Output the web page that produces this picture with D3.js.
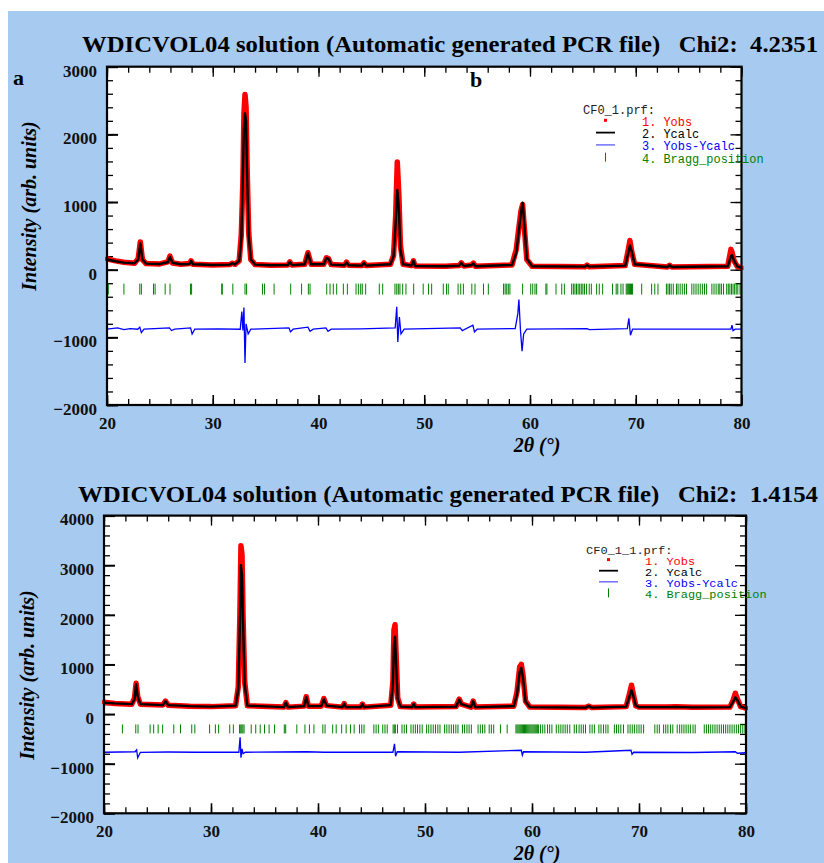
<!DOCTYPE html>
<html>
<head>
<meta charset="utf-8">
<script src="https://cdn.jsdelivr.net/npm/d3@7"></script>
<style>
  body { margin: 0; background: #fff; }
  svg text { white-space: pre; }
</style>
</head>
<body>
<div id="chart"></div>
<script>
// ---------- data, panel a (top) ----------
var topTitle = "WDICVOL04 solution (Automatic generated PCR file)   Chi2:  4.2351";
var topFile = "CF0_1.prf:";
var topYTicks = [-2000, -1000, 0, 1000, 2000, 3000];

var topTth  = [20.0, 20.8, 21.6, 22.6, 22.95, 23.15, 23.35, 23.7, 25.0, 25.75, 25.95, 26.2, 27.0, 27.8, 27.95, 28.15,
               30.0, 31.6, 31.85, 32.1, 32.5, 32.7, 32.85, 32.95, 33.05, 33.15, 33.25, 33.4, 33.6, 34.0, 35.5,
               37.1, 37.3, 37.5, 38.7, 39.0, 39.3, 40.5, 40.75, 40.95, 41.2, 42.45, 42.65, 42.85, 44.1, 44.3, 44.5,
               46.8, 47.1, 47.3, 47.45, 47.6, 47.75, 48.0, 48.8, 48.97, 49.15, 52.0, 53.3, 53.5, 53.75, 54.5, 54.65, 54.85,
               58.3, 58.7, 58.9, 59.15, 59.3, 59.45, 59.7, 60.2, 65.2, 65.4, 65.6, 69.0, 69.3, 69.45, 69.6, 69.9,
               73.0, 73.2, 73.4, 78.7, 79.0, 79.1, 79.3, 79.6, 80.0];
var topCalc = [150, 125, 105, 95, 150, 390, 150, 90, 85, 110, 190, 100, 80, 85, 130, 80,
               70, 75, 95, 80, 130, 450, 1400, 2100, 2310, 2200, 1400, 500, 150, 75, 65,
               70, 115, 68, 80, 240, 80, 80, 170, 160, 75, 65, 105, 65, 60, 100, 60,
               80, 200, 700, 1180, 900, 300, 80, 60, 130, 55, 50, 60, 100, 55, 70, 92, 50,
               70, 250, 520, 850, 990, 700, 160, 50, 45, 67, 45, 60, 250, 360, 280, 80,
               40, 65, 40, 50, 200, 215, 130, 50, 25];
var topObs  = [160, 130, 110, 95, 160, 410, 150, 90, 85, 115, 200, 100, 80, 90, 130, 80,
               70, 75, 95, 80, 130, 520, 1300, 2300, 2590, 2400, 1500, 550, 150, 75, 65,
               70, 115, 68, 80, 250, 80, 80, 175, 160, 75, 65, 110, 65, 60, 100, 60,
               80, 210, 800, 1590, 1100, 350, 80, 60, 130, 55, 50, 60, 100, 55, 70, 95, 50,
               70, 300, 560, 870, 960, 650, 150, 50, 45, 67, 45, 60, 300, 430, 280, 80,
               40, 65, 40, 50, 300, 260, 130, 50, 25];

var topDiffTth = [20, 21.0, 21.6, 22.2, 22.9, 23.1, 23.25, 23.5, 25.9, 26.1, 26.4, 27.9, 28.05, 28.3, 30.5, 32.6, 32.75, 32.85,
                  32.95, 33.05, 33.15, 33.35, 33.6, 37.2, 37.35, 37.6, 39.0, 39.2, 39.5, 40.7, 40.9, 41.2, 44.0, 47.25,
                  47.4, 47.5, 47.65, 47.8, 48.1, 53.4, 53.6, 54.6, 54.75, 55.0, 58.6, 58.85, 58.95, 59.1, 59.25, 59.4,
                  59.7, 65.4, 65.6, 69.2, 69.35, 69.5, 69.7, 79.0, 79.1, 79.2, 79.4, 80];
var topDiff = [-880, -860, -885, -870, -880, -850, -930, -880, -860, -900, -880, -860, -950, -880, -875, -880, -620, -900,
               -560, -1380, -800, -950, -880, -860, -920, -880, -850, -910, -880, -860, -910, -880, -875, -860,
               -550, -1070, -700, -950, -880, -860, -900, -820, -920, -880, -870, -650, -440, -900, -1205, -950,
               -880, -870, -885, -870, -720, -970, -880, -880, -820, -900, -880, -880];

var topBragg = [20.12, 21.6, 23.1, 23.25, 24.4, 24.55, 25.5, 25.96, 27.9, 28.0, 30.85, 30.9, 31.9, 33.05, 33.2, 34.7,
                34.9, 35.8, 37.37, 38.4, 39.04, 39.2, 40.78, 41.09, 41.4, 41.72, 42.35, 42.73, 43.55, 43.77, 43.99,
                44.14, 44.46, 45.75, 46.07, 47.23, 47.4, 47.55, 47.7, 47.96, 48.27, 49.0, 49.9, 50.4, 50.7, 51.8,
                52.1, 52.27, 53.2, 53.45, 53.7, 54.5, 54.8, 55.6, 56.06, 57.5, 57.65, 57.8, 57.95, 58.1, 59.3, 60.07,
                60.26, 60.47, 60.63, 61.5, 61.6, 62.46, 63.0, 63.25, 63.94, 64.1, 64.25, 64.4, 64.55, 64.7, 64.85,
                65.0, 65.15, 65.35, 65.6, 65.8, 66.3, 66.55, 66.87, 67.8, 68.15, 68.3, 68.6, 68.8, 69.1, 69.2, 69.3,
                69.4, 69.5, 69.6, 69.7, 70.56, 71.5, 71.8, 72.1, 72.9, 73.05, 73.2, 73.35, 73.55, 73.85, 74.0, 74.2,
                74.4, 74.6, 74.8, 75.3, 75.5, 75.7, 75.9, 76.1, 76.3, 76.5, 76.7, 77.2, 77.4, 77.6, 77.8, 77.95,
                78.1, 78.3, 78.6, 78.75, 78.9, 79.05, 79.2, 79.35, 79.5, 79.65, 79.86];

// ---------- data, panel b (bottom) ----------
var botTitle = "WDICVOL04 solution (Automatic generated PCR file)   Chi2:  1.4154";
var botFile = "CF0_1_1.prf:";
var botYTicks = [-2000, -1000, 0, 1000, 2000, 3000, 4000];

var botTth  = [20, 21, 22.6, 22.85, 23.0, 23.15, 23.4, 25.5, 25.75, 26.0, 28.0, 30.0, 32.3, 32.55, 32.7, 32.8, 32.9, 33.0,
               33.15, 33.4, 36.8, 37.0, 37.2, 38.7, 38.9, 39.1, 40.3, 40.55, 40.8, 42.3, 42.45, 42.6, 44.0, 44.15, 44.3,
               46.8, 47.0, 47.1, 47.2, 47.3, 47.45, 47.7, 48.8, 48.95, 49.1, 52.9, 53.2, 53.4, 54.3, 54.5, 54.7,
               58.3, 58.6, 58.85, 59.0, 59.15, 59.4, 59.8, 65.0, 65.3, 65.6, 68.8, 69.1, 69.3, 69.45, 69.7, 70,
               72.5, 73.5, 75, 78.5, 78.8, 79.0, 79.2, 79.5, 80];
var botCalc = [230, 215, 200, 300, 600, 350, 200, 180, 260, 180, 160, 150, 170, 500, 1800, 3000, 2800, 1800,
               600, 170, 140, 230, 140, 160, 340, 160, 160, 300, 170, 140, 210, 140, 140, 200, 140,
               180, 600, 1400, 1560, 1000, 300, 150, 140, 200, 140, 150, 290, 200, 140, 260, 140,
               160, 400, 850, 930, 750, 250, 140, 130, 160, 130, 150, 350, 480, 380, 170, 140,
               140, 145, 135, 140, 250, 340, 280, 150, 120];
var botObs  = [240, 215, 200, 320, 620, 350, 200, 185, 260, 180, 160, 150, 170, 550, 2000, 3390, 3200, 1900,
               650, 170, 140, 230, 140, 160, 350, 160, 160, 310, 170, 140, 210, 140, 140, 200, 140,
               180, 650, 1700, 1800, 1200, 320, 150, 140, 200, 140, 150, 300, 200, 140, 260, 140,
               160, 450, 950, 1000, 800, 260, 140, 130, 160, 130, 150, 400, 580, 420, 170, 140,
               140, 145, 135, 140, 280, 420, 300, 150, 120];

var botDiffTth = [20, 21.5, 22.9, 23.05, 23.15, 23.4, 26.0, 28.5, 32.6, 32.72, 32.8, 32.9, 33.0, 33.2, 38.9, 40.6, 47.0,
                  47.15, 47.25, 47.4, 53.2, 59.0, 59.1, 59.2, 65.0, 69.25, 69.35, 69.5, 75.0, 79.0, 79.2, 80];
var botDiff = [-770, -765, -760, -720, -880, -770, -765, -770, -770, -470, -880, -700, -800, -770, -760, -770, -770,
               -600, -850, -760, -770, -730, -830, -760, -770, -730, -810, -770, -775, -760, -790, -780];

var botBragg = [20.04, 21.72, 22.97, 23.18, 24.31, 24.64, 25.06, 25.48, 26.52, 27.15, 28.2, 28.49, 29.87, 30.41, 30.71,
                31.75, 32.09, 32.67, 32.78, 32.88, 32.98, 33.09, 33.76, 34.18, 34.6, 35.0, 35.43, 35.93, 36.85, 36.98,
                38.02, 38.78, 39.2, 39.62, 40.45, 40.66, 41.37, 41.7, 42.21, 42.63, 43.04, 43.38, 43.88, 44.09, 44.3,
                45.22, 45.43, 45.64, 46.05, 46.26, 46.47, 47.02, 47.13, 47.23, 47.43, 47.85, 48.06, 48.27, 48.69, 48.9,
                49.1, 49.3, 49.52, 49.74, 50.15, 50.35, 50.56, 50.77, 50.98, 51.2, 51.4, 51.83, 52.04, 52.25, 52.46,
                52.67, 52.88, 53.08, 53.5, 53.7, 53.92, 54.12, 54.33, 54.96, 55.17, 55.38, 55.59, 56.0, 56.2, 56.42,
                57.05, 57.68, 58.5, 58.6, 58.7, 58.8, 58.9, 59.0, 59.1, 59.2, 59.3, 59.4, 59.5, 59.6, 59.7, 59.8,
                59.9, 60.0, 60.1, 60.2, 60.3, 60.4, 60.5, 60.6, 60.8, 61.0, 61.2, 61.45, 61.65, 61.86, 62.27, 62.5,
                62.7, 62.9, 63.1, 63.3, 63.53, 63.95, 64.15, 64.4, 64.6, 64.8, 65.0, 65.41, 65.62, 65.83, 66.25,
                66.45, 66.68, 66.9, 67.1, 67.7, 67.9, 68.1, 68.3, 68.55, 68.97, 69.17, 69.37, 69.57, 69.8, 70.0,
                70.2, 70.43, 71.48, 71.7, 71.9, 72.3, 72.5, 72.7, 72.95, 73.16, 73.57, 73.8, 74.0, 74.2, 74.4, 74.6,
                74.8, 75.05, 75.25, 76.1, 76.3, 76.5, 76.7, 76.9, 77.1, 77.3, 77.5, 77.7, 77.9, 78.1, 78.3, 78.5,
                78.7, 78.9, 79.1, 79.3, 79.5, 79.7, 79.9];

var xTicks = [20, 30, 40, 50, 60, 70, 80];
var legendNames = ["1. Yobs", "2. Ycalc", "3. Yobs-Ycalc", "4. Bragg_position"];
var legendColors = ["#ff0000", "#000000", "#0000ff", "#008000"];


var W = 824, H = 863;
var svg = d3.select("#chart").append("svg")
    .attr("width", W)
    .attr("height", H);

// sky blue backdrop, thin white strip top and left
svg.append("rect").attr("x", 8).attr("y", 11).attr("width", W - 8).attr("height", H - 11).attr("fill", "#a6caf0");

var serif = "'Liberation Serif', 'Times New Roman', serif",
    mono = "'Liberation Mono', 'Courier New', monospace";

function drawPanel(p) {
  var x = d3.scaleLinear().domain([20, 80]).range([p.left, p.right]);
  var y = d3.scaleLinear().domain([p.yTicks[0], p.yTicks[p.yTicks.length - 1]]).range([p.bottom, p.top]);

  // title
  svg.append("text")
    .attr("x", p.titleX)
    .attr("y", p.titleY)
    .attr("textLength", p.titleW)
    .attr("lengthAdjust", "spacingAndGlyphs")
    .style("font-family", serif)
    .style("font-weight", "bold")
    .style("font-size", "24px")
    .text(p.title);

  // plot area
  svg.append("rect")
    .attr("x", p.left).attr("y", p.top)
    .attr("width", p.right - p.left).attr("height", p.bottom - p.top)
    .attr("fill", "#fff");

  var g = svg.append("g");

  // minor ticks on all sides
  var minorY = d3.range(p.yTicks[0], p.yTicks[p.yTicks.length - 1] + 1, 200);
  var minorX = d3.range(20, 81, 2);
  var axes = [
    [d3.axisLeft(y).tickValues(minorY).tickSize(-6), "translate(" + p.left + ",0)"],
    [d3.axisRight(y).tickValues(minorY).tickSize(-6), "translate(" + p.right + ",0)"],
    [d3.axisBottom(x).tickValues(minorX).tickSize(-6), "translate(0," + p.bottom + ")"],
    [d3.axisTop(x).tickValues(minorX).tickSize(-6), "translate(0," + p.top + ")"],
    [d3.axisRight(y).tickValues(p.yTicks).tickSize(-11), "translate(" + p.right + ",0)"],
    [d3.axisTop(x).tickValues(xTicks).tickSize(-10), "translate(0," + p.top + ")"]
  ];
  axes.forEach(function(a) {
    g.append("g")
      .attr("transform", a[1])
      .call(a[0].tickFormat(""))
      .call(function(s) { s.select(".domain").remove(); s.selectAll("line").attr("stroke-width", 1.3); });
  });

  // major y ticks with labels
  g.append("g")
    .attr("class", "axis")
    .attr("transform", "translate(" + p.left + ",0)")
    .call(d3.axisLeft(y).tickValues(p.yTicks).tickFormat(d3.format("d")).tickSize(-11).tickPadding(10))
    .call(function(s) {
      s.select(".domain").remove();
      s.selectAll("line").attr("stroke-width", 2);
      s.selectAll("text").attr("dy", "0.55em");
    });

  // major x ticks with labels
  g.append("g")
    .attr("class", "axis")
    .attr("transform", "translate(0," + p.bottom + ")")
    .call(d3.axisBottom(x).tickValues(xTicks).tickFormat(d3.format("d")).tickSize(-10).tickPadding(12))
    .call(function(s) {
      s.select(".domain").remove();
      s.selectAll("line").attr("stroke-width", 1.6);
    });

  g.selectAll(".axis text")
    .style("font-family", serif)
    .style("font-weight", "bold")
    .style("font-size", "17px")
    .attr("fill", "#111");

  // Bragg positions
  g.selectAll(".bragg")
    .data(p.bragg)
  .enter().append("line")
    .attr("x1", function(d) { return x(d); })
    .attr("x2", function(d) { return x(d); })
    .attr("y1", y(p.braggLevel) - p.braggH / 2)
    .attr("y2", y(p.braggLevel) + p.braggH / 2)
    .attr("stroke", "#008000")
    .attr("stroke-width", 1);

  // difference curve
  var diffLine = d3.line()
    .x(function(d, i) { return x(p.diffTth[i]); })
    .y(function(d) { return y(d); });
  g.append("path")
    .attr("d", diffLine(p.diff))
    .attr("fill", "none")
    .attr("stroke", "#0000ff")
    .attr("stroke-width", 1.3);

  // observed: red band plus dots
  var profLine = d3.line()
    .x(function(d, i) { return x(p.tth[i]); })
    .y(function(d) { return y(d); });
  g.append("path")
    .attr("d", profLine(p.obs))
    .attr("fill", "none")
    .attr("stroke", "#ff0000")
    .attr("stroke-width", 5.5)
    .attr("stroke-linejoin", "round");
  g.selectAll(".obs")
    .data(p.obs)
  .enter().append("rect")
    .attr("x", function(d, i) { return x(p.tth[i]) - 2; })
    .attr("y", function(d) { return y(d) - 2; })
    .attr("width", 4)
    .attr("height", 4)
    .attr("fill", "#ff0000");

  // calculated
  g.append("path")
    .attr("d", profLine(p.calc))
    .attr("fill", "none")
    .attr("stroke", "#000")
    .attr("stroke-width", 2.4)
    .attr("stroke-linejoin", "round");

  // frame
  svg.append("rect")
    .attr("x", p.left).attr("y", p.top)
    .attr("width", p.right - p.left).attr("height", p.bottom - p.top)
    .attr("fill", "none")
    .attr("stroke", "#000")
    .attr("stroke-width", 2.2);

  // axis titles
  svg.append("text")
    .attr("transform", "translate(" + p.yTitleX + "," + p.yTitleY + ") rotate(-90)")
    .attr("text-anchor", "middle")
    .style("font-family", serif)
    .style("font-weight", "bold")
    .style("font-style", "italic")
    .style("font-size", "20px")
    .text("Intensity (arb. units)");

  svg.append("text")
    .attr("x", 537)
    .attr("y", p.bottom + 47)
    .attr("text-anchor", "middle")
    .style("font-family", serif)
    .style("font-weight", "bold")
    .style("font-style", "italic")
    .style("font-size", "20px")
    .text("2\u03b8 (\u00b0)");

  // legend
  var lg = svg.append("g").style("font-family", mono).style("font-size", p.legFont + "px");
  lg.append("text").attr("x", p.legX).attr("y", p.legY + 4).attr("fill", "#222")
    .attr("textLength", p.file.length * 7.2).attr("lengthAdjust", "spacingAndGlyphs")
    .text(p.file);
  legendNames.forEach(function(name, i) {
    var cy = p.legY + (i + 1) * p.legStep;
    lg.append("text")
      .attr("x", p.legX + 59)
      .attr("y", cy + 4)
      .attr("fill", legendColors[i])
      .attr("textLength", name.length * 7.15)
      .attr("lengthAdjust", "spacingAndGlyphs")
      .text(name);
    var mx = p.legX + 22.5;
    if (i === 0) {
      lg.append("rect").attr("x", mx - 1.5).attr("y", cy - 3).attr("width", 3).attr("height", 3).attr("fill", "#ff0000");
    }
    else if (i === 3) {
      lg.append("line").attr("x1", mx).attr("x2", mx).attr("y1", cy - 6).attr("y2", cy + 3)
        .attr("stroke", legendColors[i]).attr("stroke-width", 1);
    }
    else {
      lg.append("line").attr("x1", mx - 9.5).attr("x2", mx + 9.5).attr("y1", cy - 1.5).attr("y2", cy - 1.5)
        .attr("stroke", i === 1 ? "#000" : "#7070ff").attr("stroke-width", i === 1 ? 1.8 : 1.5);
    }
  });
}

drawPanel({
  title: topTitle, titleX: 82, titleY: 52, titleW: 736,
  left: 107, right: 741.5, top: 66.7, bottom: 405,
  yTicks: topYTicks,
  tth: topTth, obs: topObs, calc: topCalc,
  diffTth: topDiffTth, diff: topDiff,
  bragg: topBragg, braggLevel: -287, braggH: 11,
  yTitleX: 36, yTitleY: 206,
  file: topFile, legX: 583, legY: 109.5, legStep: 12.3, legFont: 12
});

drawPanel({
  title: botTitle, titleX: 78, titleY: 502, titleW: 740,
  left: 104, right: 746, top: 515.6, bottom: 813.3,
  yTicks: botYTicks,
  tth: botTth, obs: botObs, calc: botCalc,
  diffTth: botDiffTth, diff: botDiff,
  bragg: botBragg, braggLevel: -300, braggH: 9,
  yTitleX: 34, yTitleY: 675,
  file: botFile, legX: 586, legY: 550, legStep: 11.1, legFont: 10.5
});

// panel letters
svg.append("text").attr("x", 13).attr("y", 85)
  .style("font-family", serif).style("font-weight", "bold").style("font-size", "22px").text("a");
svg.append("text").attr("x", 470).attr("y", 87)
  .style("font-family", serif).style("font-weight", "bold").style("font-size", "22px").text("b");
</script>
</body>
</html>
